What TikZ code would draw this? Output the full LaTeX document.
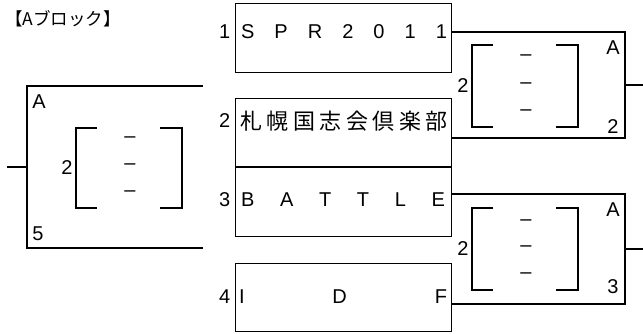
\documentclass[tikz,border=0pt]{standalone}
\usepackage{fontspec}
\setmainfont{Liberation Sans}
\newfontfamily\jpfont{Noto Sans CJK JP}
\usetikzlibrary{positioning}

\begin{document}
\begin{tikzpicture}[x=1pt, y=-1pt, every node/.style={inner sep=0pt, font=\fontsize{20}{20}\selectfont}, team/.style={draw, line width=0.9pt, minimum width=216pt, minimum height=68.5pt}, win/.style={line width=2.2pt}, sq/.style={line width=2.2pt}
]
 \tikzstyle{num}=[anchor=east, xshift=-4pt];
\useasboundingbox (0,0) rectangle (643,333);

\node (title) at (63,19) {\jpfont\fontsize{17.5}{17.5}\selectfont 【Aブロック】};

% teams
\node[team] (t1) at (343,38) {};
\node[team] (t2) at (343,132.5) {};
\node[team] (t3) at (343,202) {};
\node[team] (t4) at (343,297.5) {};
\node (n1) at (344,32) {\makebox[206pt][s]{S P R 2 0 1 1}};
\node (n2) at (344,121) {\jpfont\fontsize{22}{22}\selectfont\makebox[208pt][s]{札 幌 国 志 会 倶 楽 部}};
\node (n3) at (343,200) {\makebox[204pt][s]{B A T T L E}};
\node (n4) at (343,297) {\makebox[208pt][s]{I D F}};
\node[num] (s1) at (t1.west |- n1) {1};
\node[num] (s2) at (t2.west |- n2) {2};
\node[num] (s3) at (t3.west |- n3) {3};
\node[num] (s4) at (t4.west |- n4) {4};

% brackets
\coordinate (w0) at (27,167);
\coordinate (w1) at (625,85);
\coordinate (w2) at (625,249);
\coordinate (e0) at (7,167);
\coordinate (e1) at (643,85);
\coordinate (e2) at (643,249);
\coordinate (l1) at (203,86);
\coordinate (l2) at (203,248);
\draw[win] ([yshift=6pt]t1.east) -| (w1) |- ([yshift=-5.5pt]t2.east);
\draw[win] ([yshift=8pt]t3.east) -| (w2) |- ([yshift=-6.5pt]t4.east);
\draw[win] (l1) -| (w0) |- (l2);
\draw[win] (w0) -- (e0);
\draw[win] (w1) -- (e1);
\draw[win] (w2) -- (e2);

% scores
\draw[sq] (97,128) -| (76,208) -- (97,208);
\draw[sq] (160,128) -| (182,208) -- (160,208);
\draw[sq] (493,45) -| (472,127) -- (493,127);
\draw[sq] (556,45) -| (578,127) -- (556,127);
\draw[sq] (493,208) -| (472,290) -- (493,290);
\draw[sq] (556,208) -| (578,290) -- (556,290);
\node (d1) at (130,140) {–};
\node (d2) at (130,167) {–};
\node (d3) at (130,194) {–};
\node (d4) at (526,58) {–};
\node (d5) at (526,86) {–};
\node (d6) at (526,113) {–};
\node (d7) at (526,223) {–};
\node (d8) at (526,249) {–};
\node (d9) at (526,276) {–};

\node (a0) at (39,102) {A};
\node (b0) at (38,234) {5};
\node (c0) at (67,168) {2};
\node (a1) at (613,48) {A};
\node (b1) at (613,127) {2};
\node (c1) at (463,86) {2};
\node (a2) at (613,210) {A};
\node (b2) at (613,287) {3};
\node (c2) at (463,249) {2};

\end{tikzpicture}
\end{document}
